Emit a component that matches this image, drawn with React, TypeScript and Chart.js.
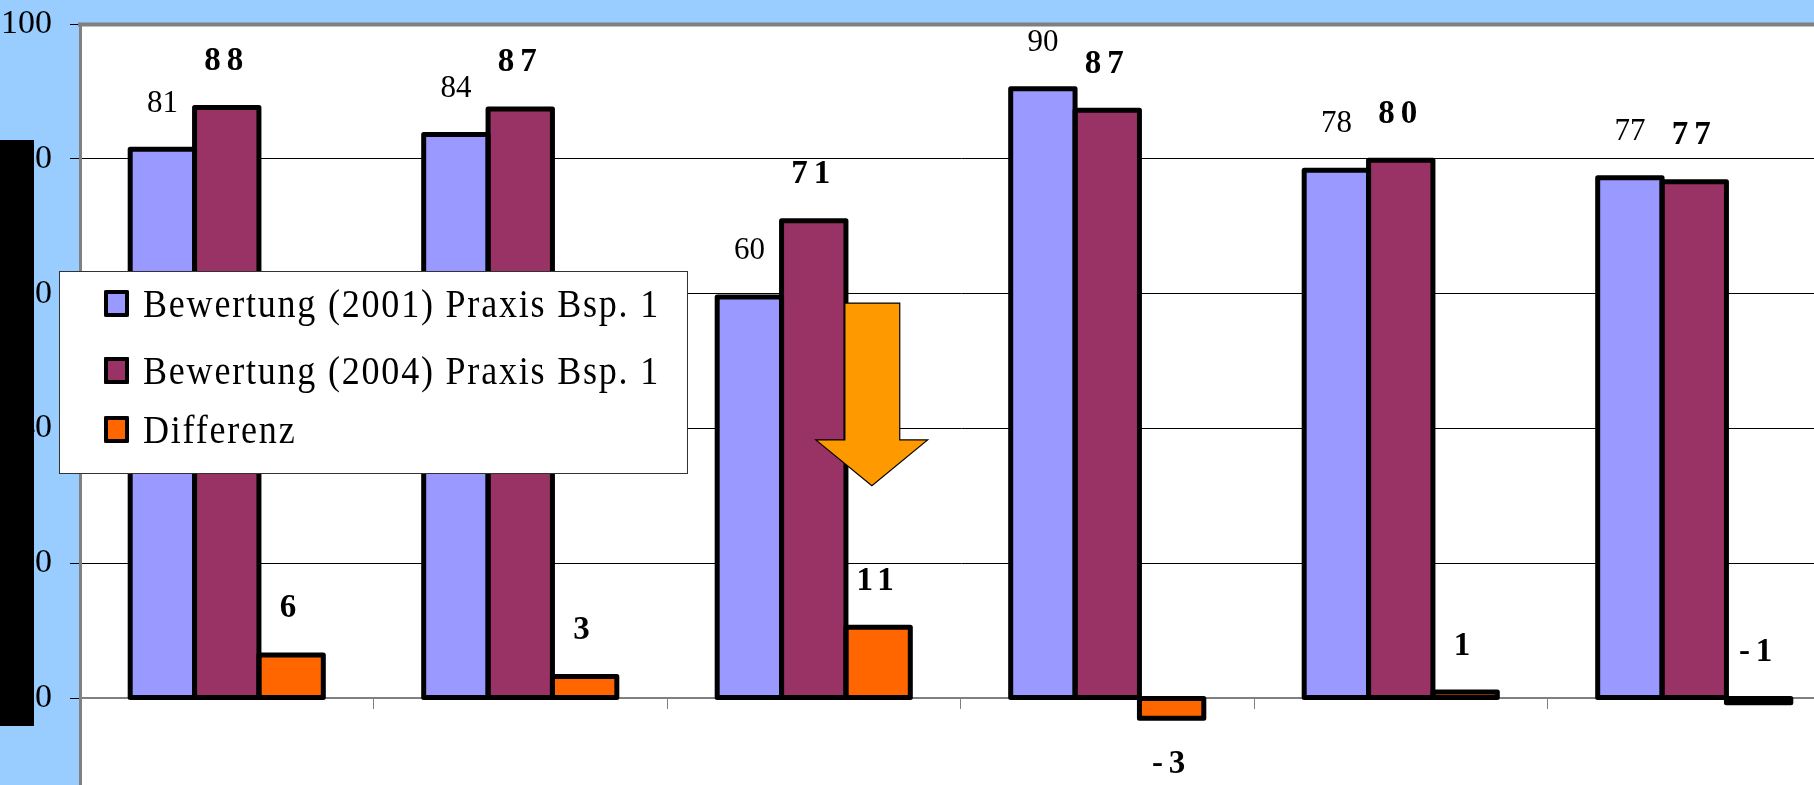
import React, { useEffect, useRef } from 'react';
import { Chart, registerables } from 'chart.js';

Chart.register(...registerables);

// ---- data ----
const categories = ['', '', '', '', '', ''];
const seriesNames = [
  'Bewertung (2001) Praxis Bsp. 1',
  'Bewertung (2004) Praxis Bsp. 1',
  'Differenz',
];
const values2001 = [81.4, 83.6, 59.5, 90.4, 78.3, 77.2];
const values2004 = [87.6, 87.4, 70.8, 87.2, 79.8, 76.6];
const valuesDiff = [6.4, 3.2, 10.5, -3.0, 0.9, -0.7];
const yTickValues = [0, 20, 40, 60, 80, 100];

// ---- styling / layout config ----
const seriesColors = ['#9999FF', '#993366', '#FF6600'];
const diffLabelAnchor = ['end', 'end', 'end', 'end', 'end', 'start'];
const LABEL_OFFSET = 46;
const SERIF = '"Liberation Serif", "Times New Roman", serif';

// arrow annotation (category index + fraction, value units)
const arrowCategory = 2;
const arrowShaftX = [0.106, 0.293];
const arrowWingX = [0.007, 0.388];
const arrowTipX = 0.198;
const arrowTopValue = 58.6;
const arrowHeadValue = 38.3;
const arrowTipValue = 31.5;

// legend box
const legendBox = { x: 59, y: 271, w: 628, h: 202 };
const legendBaselines = [46, 113, 172];

const decorPlugin = {
  id: 'decor',
  beforeDraw(chart: any) {
    const { ctx, chartArea: a } = chart;
    ctx.save();
    ctx.fillStyle = '#FFFFFF';
    ctx.fillRect(a.left, a.top, a.right - a.left, a.bottom - a.top);
    ctx.restore();
  },
  afterDatasetsDraw(chart: any) {
    const { ctx } = chart;
    const xs = chart.scales.x;
    const ys = chart.scales.y;
    const y0 = ys.getPixelForValue(0);

    // bar outlines (centered on the bar edges)
    ctx.save();
    ctx.strokeStyle = '#000000';
    ctx.lineWidth = 5;
    ctx.lineJoin = 'round';
    chart.data.datasets.forEach((_ds: any, di: number) => {
      const meta = chart.getDatasetMeta(di);
      meta.data.forEach((el: any) => {
        const p = el.getProps(['x', 'y', 'base', 'width'], true);
        const left = p.x - p.width / 2;
        const top = Math.min(p.y, p.base);
        const h = Math.abs(p.base - p.y);
        ctx.strokeRect(left, top, p.width, h);
      });
    });
    ctx.restore();

    // data labels
    chart.data.datasets.forEach((ds: any, di: number) => {
      const meta = chart.getDatasetMeta(di);
      ctx.save();
      if (di === 0) {
        ctx.font = `normal 31px ${SERIF}`;
        (ctx as any).letterSpacing = '0px';
      } else {
        ctx.font = `bold 33px ${SERIF}`;
        (ctx as any).letterSpacing = '6px';
      }
      ctx.fillStyle = '#000';
      ctx.textAlign = 'center';
      ctx.textBaseline = 'middle';
      meta.data.forEach((el: any, j: number) => {
        const v = ds.data[j];
        const yv = ys.getPixelForValue(v);
        let ly;
        if (di === 2 && diffLabelAnchor[j] === 'start') {
          ly = y0 - LABEL_OFFSET;
        } else if (v >= 0) {
          ly = yv - LABEL_OFFSET;
        } else {
          ly = yv + LABEL_OFFSET;
        }
        ctx.fillText(String(Math.round(v)), el.x, ly);
      });
      ctx.restore();
    });

    // arrow
    const px = (f: number) => xs.getPixelForValue(arrowCategory + f);
    const py = (v: number) => ys.getPixelForValue(v);
    ctx.save();
    ctx.beginPath();
    ctx.moveTo(px(arrowShaftX[0]), py(arrowTopValue));
    ctx.lineTo(px(arrowShaftX[1]), py(arrowTopValue));
    ctx.lineTo(px(arrowShaftX[1]), py(arrowHeadValue));
    ctx.lineTo(px(arrowWingX[1]), py(arrowHeadValue));
    ctx.lineTo(px(arrowTipX), py(arrowTipValue));
    ctx.lineTo(px(arrowWingX[0]), py(arrowHeadValue));
    ctx.lineTo(px(arrowShaftX[0]), py(arrowHeadValue));
    ctx.closePath();
    ctx.fillStyle = '#FF9900';
    ctx.fill();
    ctx.lineWidth = 1.2;
    ctx.strokeStyle = '#000';
    ctx.stroke();
    ctx.restore();

    // legend
    ctx.save();
    ctx.fillStyle = '#FFFFFF';
    ctx.fillRect(legendBox.x, legendBox.y, legendBox.w, legendBox.h);
    ctx.strokeStyle = '#333333';
    ctx.lineWidth = 1;
    ctx.strokeRect(legendBox.x + 0.5, legendBox.y + 0.5, legendBox.w, legendBox.h);
    chart.data.datasets.forEach((ds: any, i: number) => {
      const base = legendBox.y + legendBaselines[i];
      const mx = legendBox.x + 45;
      const my = base - 27;
      const mw = 25;
      const mh = 27;
      ctx.fillStyle = ds.backgroundColor;
      ctx.fillRect(mx, my, mw, mh);
      ctx.strokeStyle = '#000';
      ctx.lineWidth = 4;
      ctx.lineJoin = 'round';
      ctx.strokeRect(mx + 2, my + 2, mw - 4, mh - 4);
      ctx.save();
      ctx.translate(legendBox.x + 84, base);
      ctx.scale(0.9, 1);
      ctx.font = `normal 40px ${SERIF}`;
      (ctx as any).letterSpacing = '2px';
      ctx.fillStyle = '#000';
      ctx.textAlign = 'left';
      ctx.textBaseline = 'alphabetic';
      ctx.fillText(ds.label, 0, 0);
      ctx.restore();
    });
    ctx.restore();
  },
  afterDraw(chart: any) {
    const { ctx, chartArea: a } = chart;
    ctx.save();
    ctx.strokeStyle = '#808080';
    ctx.lineWidth = 4;
    ctx.beginPath();
    ctx.moveTo(a.left - 2, a.top + 0.5);
    ctx.lineTo(a.right, a.top + 0.5);
    ctx.stroke();
    ctx.restore();
  },
};

export default function App() {
  const ref = useRef<HTMLCanvasElement>(null);

  useEffect(() => {
    document.body.style.margin = '0';
    const seriesData = [values2001, values2004, valuesDiff];
    const chart = new Chart(ref.current as HTMLCanvasElement, {
      type: 'bar',
      data: {
        labels: categories,
        datasets: seriesData.map((d, i) => ({
          label: seriesNames[i],
          data: d,
          backgroundColor: seriesColors[i],
          borderWidth: 0,
          inflateAmount: 0,
          barPercentage: 1,
          categoryPercentage: 0.658,
        })),
      },
      options: {
        responsive: false,
        animation: false,
        devicePixelRatio: 1,
        layout: { padding: { top: 24, left: 0, right: 0, bottom: 0 } },
        plugins: {
          legend: { display: false },
          tooltip: { enabled: false },
        },
        scales: {
          x: {
            position: { y: 0 },
            offset: true,
            grid: {
              offset: true,
              drawOnChartArea: false,
              drawTicks: true,
              tickLength: 10,
              color: '#808080',
              lineWidth: 1,
            },
            border: { display: true, color: '#808080', width: 2 },
            ticks: { display: false },
          },
          y: {
            min: -12.9,
            max: 100,
            afterBuildTicks: (s: any) => {
              s.ticks = yTickValues.map((v) => ({ value: v }));
            },
            afterFit: (s: any) => {
              s.width = 80;
              s.paddingTop = 0;
              s.paddingBottom = 0;
            },
            grid: {
              color: (c: any) => {
                const v = c.tick ? c.tick.value : null;
                if (v === 0) return '#808080';
                if (v === 100) return 'rgba(0,0,0,0)';
                return '#000000';
              },
              lineWidth: 1,
              drawTicks: true,
              tickLength: 10,
              tickColor: '#000000',
            },
            border: { display: true, color: '#808080', width: 3 },
            ticks: {
              font: { family: SERIF, size: 34 },
              color: '#000000',
              padding: 18,
              callback: (v: any) => String(v),
            },
          },
        },
      },
      plugins: [decorPlugin],
    } as any);
    return () => chart.destroy();
  }, []);

  return (
    <div
      style={{
        position: 'fixed',
        left: 0,
        top: 0,
        width: 1814,
        height: 785,
        overflow: 'hidden',
        background: '#99CCFF',
      }}
    >
      <canvas
        ref={ref}
        width={1841}
        height={785}
        style={{ display: 'block', width: 1841, height: 785 }}
      />
      <div
        style={{
          position: 'absolute',
          left: 0,
          top: 140,
          width: 34,
          height: 586,
          background: '#000000',
        }}
      />
    </div>
  );
}
